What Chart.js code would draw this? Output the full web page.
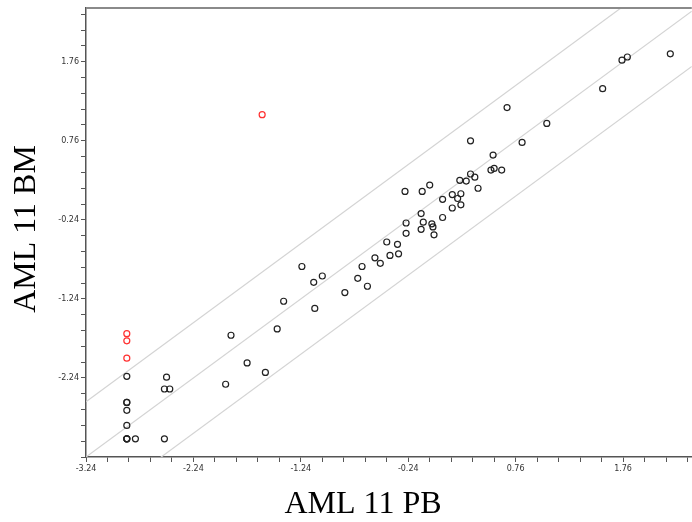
<!DOCTYPE html>
<html>
<head>
<meta charset="utf-8">
<style>
html,body{margin:0;padding:0;background:#fff;overflow:hidden;width:692px;height:522px;}
#wrap{position:relative;width:692px;height:522px;overflow:hidden;}
canvas{display:block;}
</style>
<script src="https://cdn.jsdelivr.net/npm/chart.js@4/dist/chart.umd.min.js"></script>
</head>
<body>
<div id="wrap"><canvas id="c" width="697" height="522"></canvas></div>
<script>
// ---- data ----
const xTitle = "AML 11 PB";
const yTitle = "AML 11 BM";

const blackX = [-2.86,-2.49,-2.51,-2.46,-2.86,-2.86,-2.86,-2.86,-2.86,-2.86,-2.86,-2.78,-2.51,
  -1.89,-1.74,-1.57,-1.94,-1.46,-1.40,-1.23,-1.12,-1.04,-1.11,-0.83,-0.71,-0.67,-0.62,-0.55,-0.50,
  -0.44,-0.41,-0.34,-0.33,-0.27,-0.26,-0.26,-0.12,-0.12,-0.11,-0.10,-0.04,-0.02,-0.01,0.00,0.08,0.08,
  0.17,0.17,0.22,0.25,0.25,0.24,0.30,0.34,0.38,0.41,0.53,0.56,0.63,0.55,0.34,0.82,0.68,1.05,1.57,1.75,1.80,2.20];
const blackY = [-2.22,-2.23,-2.38,-2.38,-2.55,-2.55,-2.65,-2.84,-3.01,-3.01,-3.01,-3.01,-3.01,
  -1.70,-2.05,-2.17,-2.32,-1.62,-1.27,-0.83,-1.03,-0.95,-1.36,-1.16,-0.98,-0.83,-1.08,-0.72,-0.79,
  -0.52,-0.69,-0.55,-0.67,0.12,-0.28,-0.41,-0.36,-0.16,0.12,-0.27,0.20,-0.29,-0.33,-0.43,0.02,-0.21,
  -0.09,0.08,0.03,0.09,-0.05,0.26,0.25,0.34,0.30,0.16,0.39,0.41,0.39,0.58,0.76,0.74,1.18,0.98,1.42,1.78,1.82,1.86];

const redX = [-2.86,-2.86,-2.86,-1.60];
const redY = [-1.68,-1.77,-1.99,1.09];

// reference diagonals y = x + offset
const lineOffsets = [0.7, 0, -0.7];

// axis ranges / ticks
const xMin = -3.24, xMax = 2.40;
const yMin = -3.24, yMax = 2.44;
const tickStep = 0.2;
const labelEvery = 5;

// ---- build ----
const toPts = (xs, ys) => xs.map((x, i) => ({x: x, y: ys[i]}));

const lineSets = lineOffsets.map(c => ({
  type: 'line',
  data: [{x: xMin, y: xMin + c}, {x: xMax, y: xMax + c}],
  borderColor: '#d4d4d4',
  borderWidth: 1.2,
  pointRadius: 0,
  fill: false,
  tension: 0
}));

function makeTicks(scale, min, max) {
  const t = [];
  for (let i = 0; ; i++) {
    const v = Math.round((min + i * tickStep) * 100) / 100;
    if (v > max + 1e-9) break;
    t.push({value: v});
  }
  scale.ticks = t;
}

const framePlugin = {
  id: 'frame',
  afterDraw(chart) {
    const {ctx, chartArea} = chart;
    ctx.save();
    // top border
    ctx.strokeStyle = '#8a8a8a';
    ctx.lineWidth = 2;
    ctx.beginPath();
    ctx.moveTo(chartArea.left, chartArea.top);
    ctx.lineTo(chartArea.right, chartArea.top);
    ctx.stroke();
    // axis titles
    ctx.fillStyle = '#000';
    ctx.font = '32px "Liberation Serif", "Times New Roman", serif';
    ctx.textAlign = 'center';
    ctx.textBaseline = 'alphabetic';
    ctx.fillText(xTitle, 363, 513);
    ctx.translate(35, 229);
    ctx.rotate(-Math.PI / 2);
    ctx.fillText(yTitle, 0, 0);
    ctx.restore();
  }
};

new Chart(document.getElementById('c'), {
  type: 'scatter',
  data: {
    datasets: [
      {
        data: toPts(redX, redY),
        borderColor: '#ff3030',
        backgroundColor: 'rgba(0,0,0,0)',
        pointRadius: 3,
        borderWidth: 1.2
      },
      {
        data: toPts(blackX, blackY),
        borderColor: '#222',
        backgroundColor: 'rgba(0,0,0,0)',
        pointRadius: 3,
        borderWidth: 1.2
      },
      ...lineSets
    ]
  },
  options: {
    responsive: false,
    animation: false,
    layout: {padding: {top: 8, right: 0, left: 0, bottom: 0}},
    plugins: {legend: {display: false}, tooltip: {enabled: false}},
    scales: {
      x: {
        type: 'linear',
        min: xMin, max: xMax,
        afterBuildTicks: s => makeTicks(s, xMin, xMax),
        afterFit: s => { s.height = 65; s.paddingRight = 0; s.paddingLeft = 0; },
        grid: {drawOnChartArea: false, tickLength: 5, tickColor: '#555'},
        border: {color: '#555', width: 1.5},
        ticks: {
          autoSkip: false, maxRotation: 0, padding: 2,
          color: '#333',
          font: {family: '"DejaVu Sans", sans-serif', size: 8},
          callback: (v, i) => (i % labelEvery === 0 ? Number(v).toFixed(2) : '')
        }
      },
      y: {
        type: 'linear',
        min: yMin, max: yMax,
        afterBuildTicks: s => makeTicks(s, yMin, yMax),
        afterFit: s => { s.width = 86; s.paddingTop = 0; s.paddingBottom = 0; },
        grid: {drawOnChartArea: false, tickLength: 5, tickColor: '#555'},
        border: {color: '#555', width: 1.5},
        ticks: {
          autoSkip: false, padding: 2,
          color: '#333',
          font: {family: '"DejaVu Sans", sans-serif', size: 8},
          callback: (v, i) => (i % labelEvery === 0 && i > 0 ? Number(v).toFixed(2) : '')
        }
      }
    }
  },
  plugins: [framePlugin]
});
</script>
</body>
</html>
